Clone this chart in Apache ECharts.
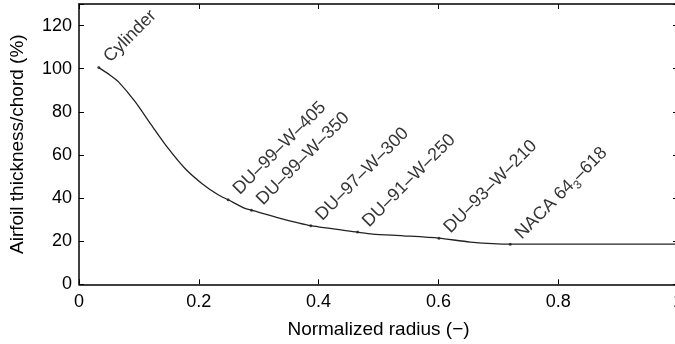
<!DOCTYPE html>
<html>
<head>
<meta charset="utf-8">
<script src="https://cdn.jsdelivr.net/npm/echarts@6/dist/echarts.min.js"></script>
<style>html,body{margin:0;padding:0;background:#fff}#c{width:675px;height:344px}</style>
</head>
<body>
<div id="c"></div>
<script>
// Curve (normalized radius, thickness/chord %)
var curveX = [0.033, 0.052, 0.066, 0.094, 0.121, 0.149, 0.177, 0.205, 0.233, 0.249, 0.277, 0.288, 0.336, 0.387, 0.465, 0.490, 0.541, 0.601, 0.653, 0.720, 0.85, 1.0];
var curveY = [100.5, 97.0, 93.9, 84.6, 73.8, 63.0, 53.7, 46.8, 41.4, 39.2, 35.2, 34.4, 30.6, 27.2, 24.2, 23.3, 22.5, 21.4, 19.6, 18.6, 18.6, 18.6];
// Labelled airfoil stations
var markerNames = ['Cylinder', 'DU–99–W–405', 'DU–99–W–350', 'DU–97–W–300', 'DU–91–W–250', 'DU–93–W–210', 'NACA 64{sub|3}–618'];
var markerX = [0.033, 0.249, 0.288, 0.387, 0.465, 0.601, 0.720];
var markerY = [100.5, 39.2, 34.4, 27.2, 24.2, 21.4, 18.6];
// Axis ticks
var xTicks = [0, 0.2, 0.4, 0.6, 0.8, 1];
var yTicks = [0, 20, 40, 60, 80, 100, 120];

var FONT = 'Liberation Sans, Arial, Helvetica, sans-serif';
var curveData = curveX.map(function (x, i) { return [x, curveY[i]]; });
var markerData = markerX.map(function (x, i) { return { value: [x, markerY[i]], name: markerNames[i] }; });

var chart = echarts.init(document.getElementById('c'), null, { renderer: 'canvas' });
var axisLine = { show: true, onZero: false, lineStyle: { color: '#000', width: 1.5 } };
var tick = { show: true, inside: true, length: 5, lineStyle: { color: '#000', width: 1 } };
chart.setOption({
  animation: false,
  backgroundColor: '#fff',
  grid: { left: 79, top: 4, width: 599, height: 280.3, containLabel: false, outerBoundsMode: 'none' },
  xAxis: [{
    type: 'value', min: 0, max: 1, interval: 0.2,
    name: 'Normalized radius (−)', nameLocation: 'middle', nameGap: 36,
    nameTextStyle: { fontFamily: FONT, fontSize: 19, color: '#000' },
    axisLine: axisLine, axisTick: tick, splitLine: { show: false },
    axisLabel: { fontFamily: FONT, fontSize: 18, color: '#000', margin: 9,
      formatter: function (v) { return xTicks.indexOf(Math.round(v * 10) / 10) >= 0 ? String(Math.round(v * 10) / 10) : ''; } }
  }, {
    type: 'value', position: 'top', min: 0, max: 1, interval: 0.2,
    axisLine: axisLine, axisTick: tick, splitLine: { show: false }, axisLabel: { show: false }
  }],
  yAxis: [{
    type: 'value', min: 0, max: 130, interval: 20,
    name: 'Airfoil thickness/chord (%)', nameLocation: 'middle', nameGap: 52,
    nameTextStyle: { fontFamily: FONT, fontSize: 19, color: '#000' },
    axisLine: axisLine, axisTick: tick, splitLine: { show: false },
    axisLabel: { fontFamily: FONT, fontSize: 18, color: '#000', margin: 7,
      formatter: function (v) { return yTicks.indexOf(v) >= 0 ? String(v) : ''; } }
  }, {
    type: 'value', position: 'right', min: 0, max: 130, interval: 20,
    axisLine: axisLine, axisTick: tick, splitLine: { show: false }, axisLabel: { show: false }
  }],
  series: [{
    type: 'line', data: curveData, smooth: 0.25, showSymbol: false,
    lineStyle: { color: '#222', width: 1.3 }, z: 2
  }, {
    type: 'scatter', data: markerData, symbol: 'circle', symbolSize: 3,
    itemStyle: { color: '#222' }, z: 3,
    label: {
      show: true, position: [9.5, -6.5], rotate: 45, align: 'left', verticalAlign: 'middle',
      fontFamily: FONT, fontSize: 18, color: '#000',
      formatter: function (p) { return p.name; },
      rich: { sub: { fontFamily: FONT, fontSize: 12, color: '#000', padding: [12, 0, 0, 0], verticalAlign: 'bottom' } }
    }
  }]
});
</script>
</body>
</html>
